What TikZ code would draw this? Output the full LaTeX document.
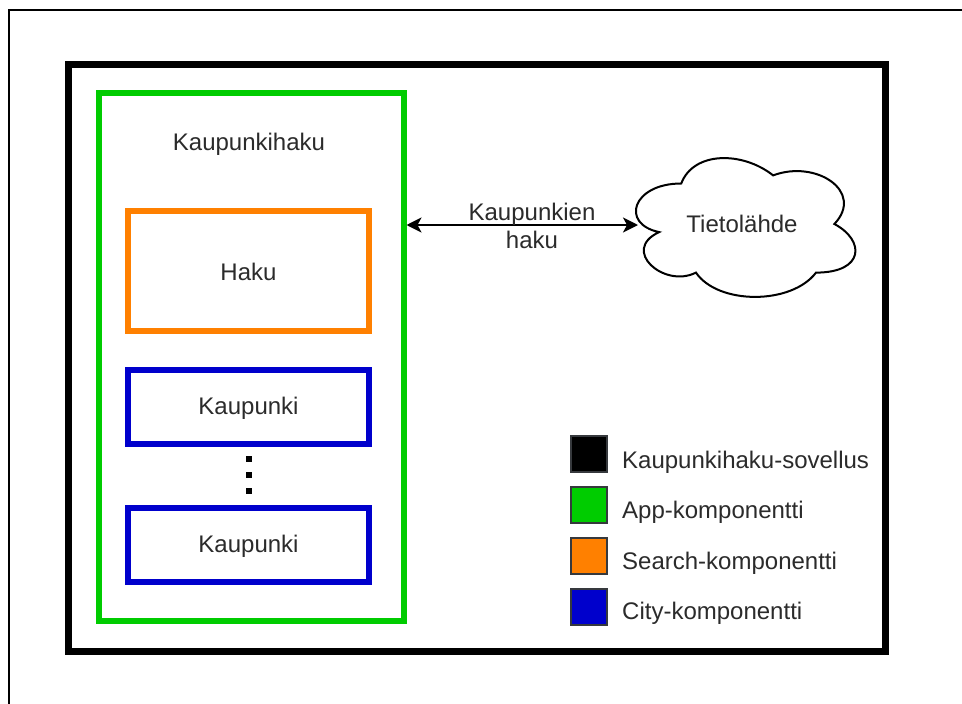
\documentclass[tikz,border=0pt]{standalone}
\usepackage{fontspec}
\setmainfont{Liberation Sans}
\usetikzlibrary{arrows.meta}

\definecolor{appgreen}{HTML}{00CC00}
\definecolor{searchorange}{HTML}{FF8000}
\definecolor{cityblue}{HTML}{0000CC}
\definecolor{legendedge}{HTML}{36393D}
\definecolor{labeltext}{HTML}{2B2B2B}

\tikzset{
  lbl/.style={font=\fontsize{24}{28}\selectfont, text=labeltext, inner sep=0pt},
  compbox/.style={draw, line width=6pt, minimum width=0pt},
  legendsq/.style={draw=legendedge, line width=1.5pt},
  dotmark/.style={fill=black, minimum size=6pt, inner sep=0pt, draw=none},
  tipend/.tip={Stealth[length=15pt,width=15pt,inset=4pt]},
}

\begin{document}
\begin{tikzpicture}[x=1pt, y=-1pt]
  \useasboundingbox (0,0) rectangle (962,704);
  \fill[white] (0,0) rectangle (962,704);

  % page frame (runs off the right and bottom)
  \draw[line width=2pt] (9,704) -- (9,10) -- (962,10);

  % application frame
  \draw[line width=7pt] (68.5,64) rectangle (885,651);

  % App component
  \draw[compbox, draw=appgreen] (99,93) rectangle (403.5,621);
  \coordinate (appE) at (406.5,225);
  \node[lbl] (apptitle) at (249,144) {Kaupunkihaku};

  % Search component
  \draw[compbox, draw=searchorange] (128,211) rectangle (369,331);
  \node[lbl] (search) at (248.5,272) {Haku};

  % City components
  \draw[compbox, draw=cityblue] (128,369.5) rectangle (369,444);
  \node[lbl] (city1) at (248.5,408) {Kaupunki};
  \draw[compbox, draw=cityblue] (128,507.5) rectangle (369,582);
  \node[lbl] (city2) at (248.5,546) {Kaupunki};

  % ellipsis between the cities
  \node[dotmark] (d1) at (248.5,459) {};
  \node[dotmark] (d2) at (248.5,475) {};
  \node[dotmark] (d3) at (248.5,491) {};

  % data source cloud
  \begin{scope}[shift={(620,143)}, x=245pt, y=-162pt]
    \draw[line width=2pt, fill=white]
      (0.25,0.25)
      .. controls (0.05,0.25) and (0,0.5) .. (0.16,0.55)
      .. controls (0,0.66) and (0.18,0.9) .. (0.31,0.8)
      .. controls (0.4,1) and (0.7,1) .. (0.8,0.8)
      .. controls (1,0.8) and (1,0.6) .. (0.875,0.5)
      .. controls (1,0.3) and (0.8,0.1) .. (0.625,0.2)
      .. controls (0.5,0.05) and (0.3,0.05) .. (0.25,0.25) -- cycle;
  \end{scope}
  \node[lbl] (source) at (742,224) {Tietolähde};
  \coordinate (sourceW) at (638,225);

  % query connector
  \draw[line width=2pt, tipend-tipend] (appE) -- (sourceW);
  \node[lbl, align=center] (query) at (532,226) {Kaupunkien\\haku};

  % legend
  \draw[legendsq, fill=black] (571,436) rectangle (607,472);
  \node[lbl, anchor=west] (legApp) at (622,462) {Kaupunkihaku-sovellus};
  \draw[legendsq, fill=appgreen] (571,487) rectangle (607,523);
  \node[lbl, anchor=west] (legAppComp) at (622,512) {App-komponentti};
  \draw[legendsq, fill=searchorange] (571,538) rectangle (607,574);
  \node[lbl, anchor=west] (legSearch) at (622,563) {Search-komponentti};
  \draw[legendsq, fill=cityblue] (571,589) rectangle (607,625);
  \node[lbl, anchor=west] (legCity) at (622,613) {City-komponentti};
\end{tikzpicture}
\end{document}
